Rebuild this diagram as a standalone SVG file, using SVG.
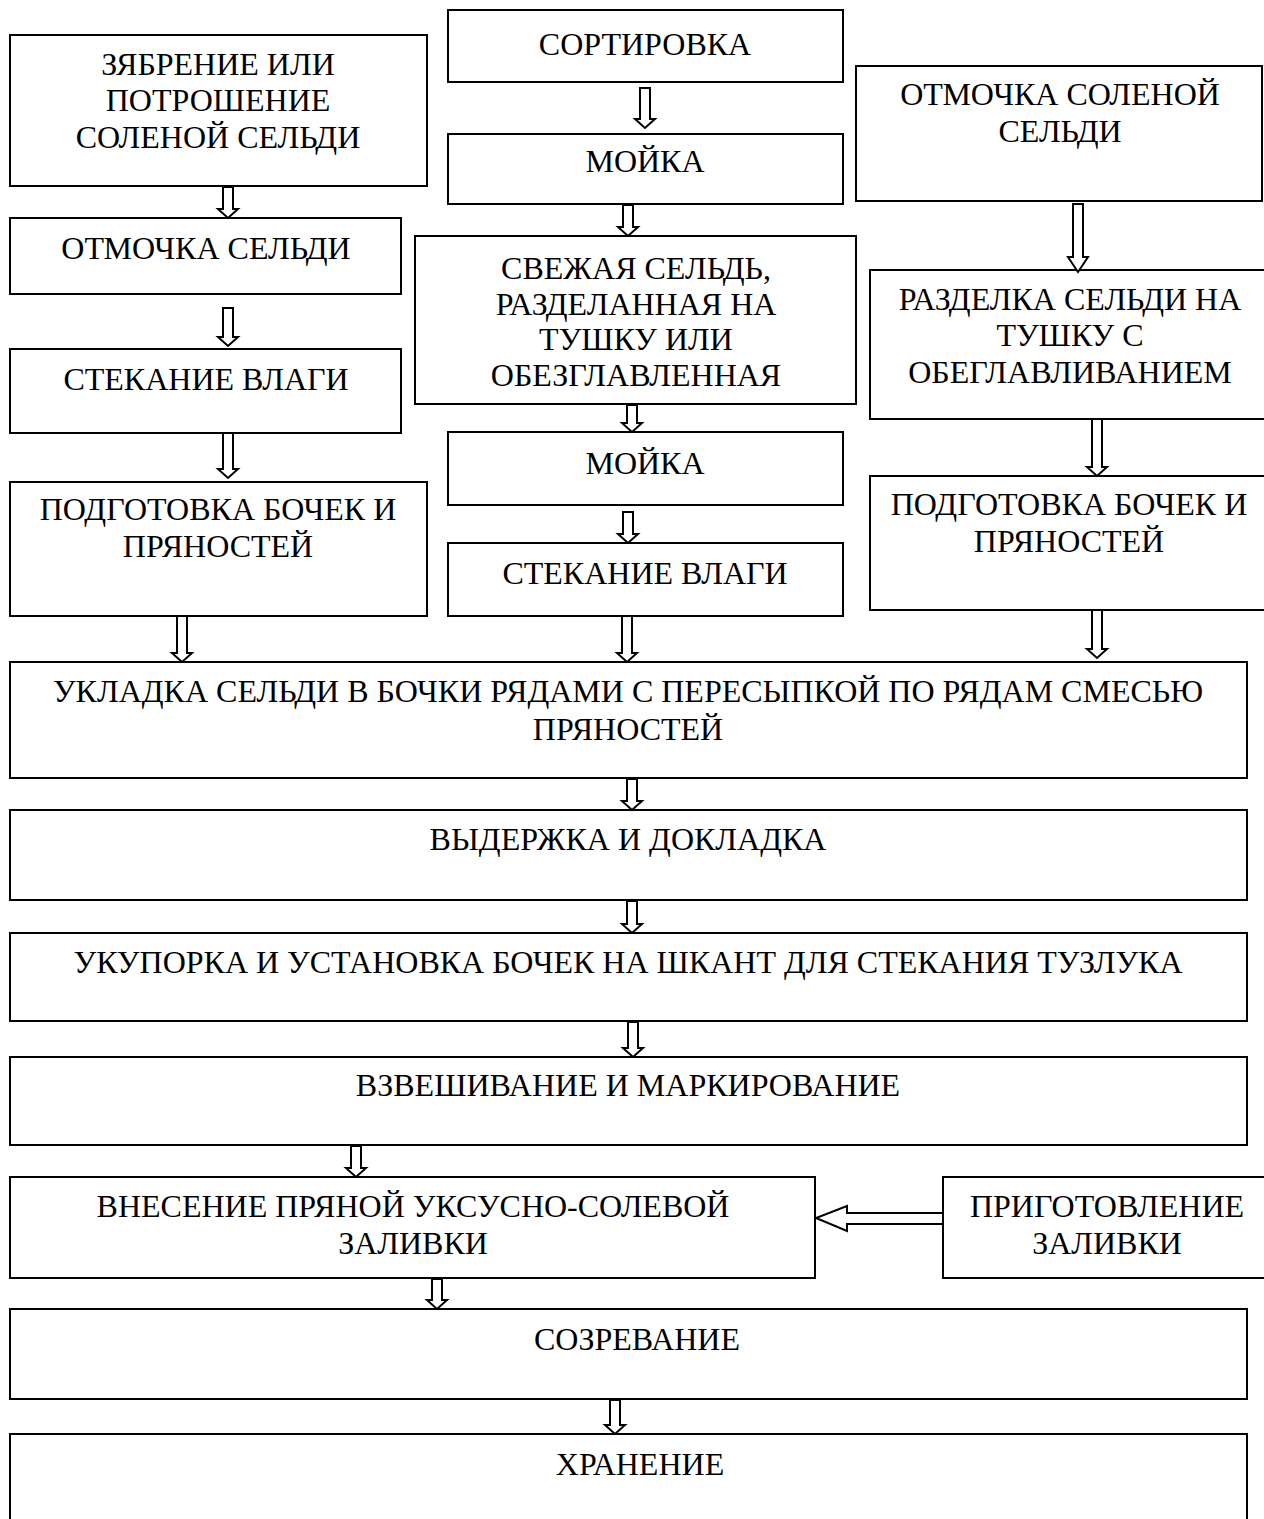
<svg xmlns="http://www.w3.org/2000/svg" width="1264" height="1519" viewBox="0 0 1264 1519">
<style>
rect{fill:#fff;stroke:#000;stroke-width:2}
text{font-family:"Liberation Serif","Times New Roman",serif;font-size:32px;fill:#000;text-anchor:middle}
.a{fill:#fff;stroke:#000;stroke-width:2;stroke-linejoin:miter}
</style>
<rect x="0" y="0" width="1264" height="1519" style="stroke:none"/>
<g id="n1"><rect x="10" y="35" width="417" height="151"/><text x="218" y="75">ЗЯБРЕНИЕ ИЛИ</text><text x="218" y="111">ПОТРОШЕНИЕ</text><text x="218" y="148">СОЛЕНОЙ СЕЛЬДИ</text></g>
<g id="n2"><rect x="10" y="218" width="391" height="76"/><text x="206" y="259">ОТМОЧКА СЕЛЬДИ</text></g>
<g id="n3"><rect x="10" y="349" width="391" height="84"/><text x="206" y="390">СТЕКАНИЕ ВЛАГИ</text></g>
<g id="n4"><rect x="10" y="482" width="417" height="134"/><text x="218" y="520">ПОДГОТОВКА БОЧЕК И</text><text x="218" y="557">ПРЯНОСТЕЙ</text></g>
<g id="n5"><rect x="448" y="10" width="395" height="72"/><text x="645" y="55">СОРТИРОВКА</text></g>
<g id="n6"><rect x="448" y="134" width="395" height="70"/><text x="645" y="172">МОЙКА</text></g>
<g id="n7"><rect x="415" y="236" width="441" height="168"/><text x="636" y="279">СВЕЖАЯ СЕЛЬДЬ,</text><text x="636" y="315">РАЗДЕЛАННАЯ НА</text><text x="636" y="350">ТУШКУ ИЛИ</text><text x="636" y="386">ОБЕЗГЛАВЛЕННАЯ</text></g>
<g id="n8"><rect x="448" y="432" width="395" height="73"/><text x="645" y="474">МОЙКА</text></g>
<g id="n9"><rect x="448" y="543" width="395" height="73"/><text x="645" y="584">СТЕКАНИЕ ВЛАГИ</text></g>
<g id="n10"><rect x="856" y="66" width="406" height="135"/><text x="1060" y="105">ОТМОЧКА СОЛЕНОЙ</text><text x="1060" y="142">СЕЛЬДИ</text></g>
<g id="n11"><rect x="870" y="270" width="396" height="149"/><text x="1070" y="310">РАЗДЕЛКА СЕЛЬДИ НА</text><text x="1070" y="346">ТУШКУ С</text><text x="1070" y="383">ОБЕГЛАВЛИВАНИЕМ</text></g>
<g id="n12"><rect x="870" y="476" width="396" height="134"/><text x="1069" y="515">ПОДГОТОВКА БОЧЕК И</text><text x="1069" y="552">ПРЯНОСТЕЙ</text></g>
<g id="n13"><rect x="10" y="662" width="1237" height="116"/><text x="628" y="702">УКЛАДКА СЕЛЬДИ В БОЧКИ РЯДАМИ С ПЕРЕСЫПКОЙ ПО РЯДАМ СМЕСЬЮ</text><text x="628" y="740">ПРЯНОСТЕЙ</text></g>
<g id="n14"><rect x="10" y="810" width="1237" height="90"/><text x="628" y="850">ВЫДЕРЖКА И ДОКЛАДКА</text></g>
<g id="n15"><rect x="10" y="933" width="1237" height="88"/><text x="628" y="973">УКУПОРКА И УСТАНОВКА БОЧЕК НА ШКАНТ ДЛЯ СТЕКАНИЯ ТУЗЛУКА</text></g>
<g id="n16"><rect x="10" y="1057" width="1237" height="88"/><text x="628" y="1096">ВЗВЕШИВАНИЕ И МАРКИРОВАНИЕ</text></g>
<g id="n17"><rect x="10" y="1177" width="805" height="101"/><text x="413" y="1217">ВНЕСЕНИЕ ПРЯНОЙ УКСУСНО-СОЛЕВОЙ</text><text x="413" y="1254">ЗАЛИВКИ</text></g>
<g id="n18"><rect x="943" y="1177" width="323" height="101"/><text x="1107" y="1217">ПРИГОТОВЛЕНИЕ</text><text x="1107" y="1254">ЗАЛИВКИ</text></g>
<g id="n19"><rect x="10" y="1309" width="1237" height="90"/><text x="637" y="1350">СОЗРЕВАНИЕ</text></g>
<g id="n20"><rect x="10" y="1434" width="1237" height="100"/><text x="640" y="1475">ХРАНЕНИЕ</text></g>
<g id="connectors">
<path class="a" d="M223,187 V209 H218 L228,218 L238,209 H233 V187 Z"/>
<path class="a" d="M223,308 V337 H218 L228,346 L238,337 H233 V308 Z"/>
<path class="a" d="M223,433 V469 H218 L228,478 L238,469 H233 V433 Z"/>
<path class="a" d="M177,616 V653 H172 L182,662 L192,653 H187 V616 Z"/>
<path class="a" d="M640,88 V119 H635 L645,128 L655,119 H650 V88 Z"/>
<path class="a" d="M623,205 V227 H618 L628,236 L638,227 H633 V205 Z"/>
<path class="a" d="M627,405 V423 H622 L632,432 L642,423 H637 V405 Z"/>
<path class="a" d="M623,512 V534 H618 L628,543 L638,534 H633 V512 Z"/>
<path class="a" d="M622,616 V653 H617 L627,662 L637,653 H632 V616 Z"/>
<path class="a" d="M1073,204 V257 H1068 L1078,272 L1088,257 H1083 V204 Z"/>
<path class="a" d="M1092,419 V467 H1087 L1097,476 L1107,467 H1102 V419 Z"/>
<path class="a" d="M1092,610 V649 H1087 L1097,658 L1107,649 H1102 V610 Z"/>
<path class="a" d="M627,779 V801 H622 L632,810 L642,801 H637 V779 Z"/>
<path class="a" d="M627,901 V924 H622 L632,933 L642,924 H637 V901 Z"/>
<path class="a" d="M628,1022 V1048 H623 L633,1057 L643,1048 H638 V1022 Z"/>
<path class="a" d="M351,1146 V1168 H346 L356,1177 L366,1168 H361 V1146 Z"/>
<path class="a" d="M432,1279 V1300 H427 L437,1309 L447,1300 H442 V1279 Z"/>
<path class="a" d="M610,1400 V1425 H605 L615,1434 L625,1425 H620 V1400 Z"/>
<path class="a" d="M943,1213 H847 V1206 L816,1218 L847,1231 V1224 H943 Z"/>
</g>
</svg>
